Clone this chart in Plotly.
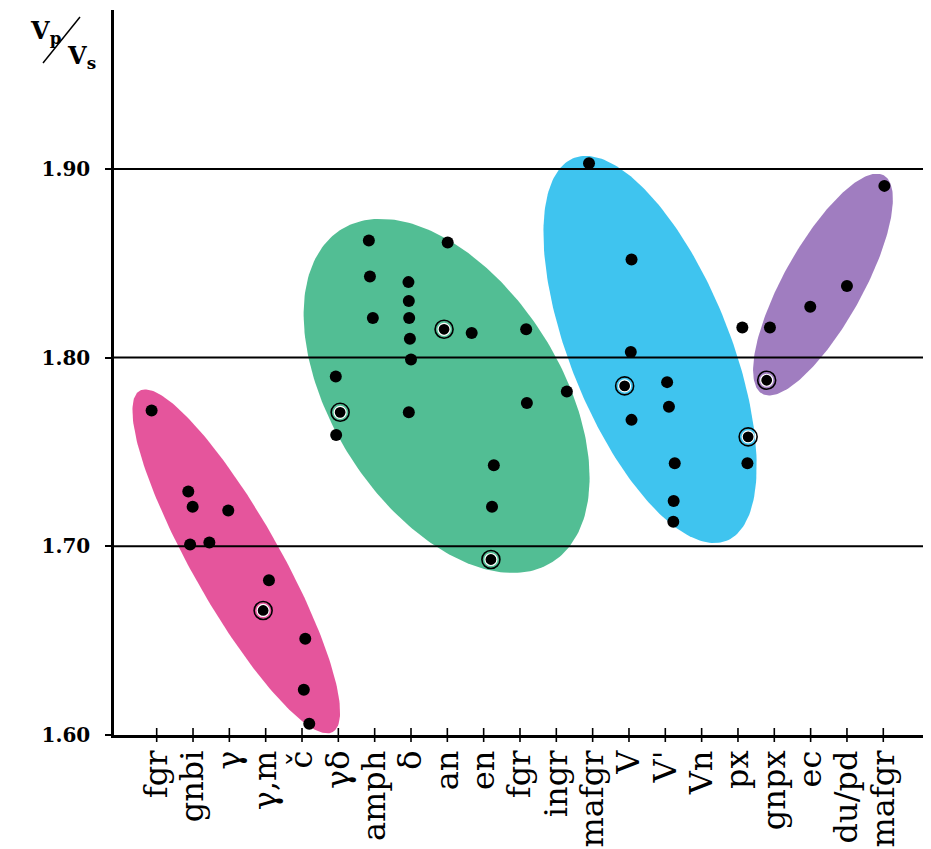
import numpy as np
import plotly.graph_objects as go

# ---------------- data ----------------
categories = ["fgr", "gnbi", "γ", "γ,m", "č", "γδ", "amph", "δ", "an", "en",
              "fgr", "ingr", "mafgr", "V", "V'", "Vn", "px", "gnpx", "ec",
              "du/pd", "mafgr"]
y_tick_values = [1.60, 1.70, 1.80, 1.90]

# plain dots (x in category-index units, y = Vp/Vs)
pink_x = [-0.14, 0.87, 0.99, 1.97, 0.92, 1.45, 3.09, 4.09, 4.05, 4.20]
pink_y = [1.772, 1.729, 1.721, 1.719, 1.701, 1.702, 1.682, 1.651, 1.624, 1.606]
green_x = [5.84, 8.01, 5.87, 6.93, 6.94, 5.95, 6.95, 8.67, 10.17, 6.97, 7.00,
           4.93, 11.29, 10.19, 6.94, 4.94, 9.28, 9.23]
green_y = [1.862, 1.861, 1.843, 1.840, 1.830, 1.821, 1.821, 1.813, 1.815, 1.810,
           1.799, 1.790, 1.782, 1.776, 1.771, 1.759, 1.743, 1.721]
blue_x = [11.90, 13.07, 13.05, 14.05, 14.10, 13.07, 14.26, 14.23, 14.22, 16.26]
blue_y = [1.903, 1.852, 1.803, 1.787, 1.774, 1.767, 1.744, 1.724, 1.713, 1.744]
purple_x = [20.03, 19.00, 17.99, 16.88]
purple_y = [1.891, 1.838, 1.827, 1.816]
lone_x = [16.12]
lone_y = [1.816]

# ringed dots
ring_x = [2.93, 7.91, 5.05, 9.20, 12.88, 16.28, 16.79]
ring_y = [1.666, 1.815, 1.771, 1.693, 1.785, 1.758, 1.788]

# field ellipses: centre (data units), semi-axes (px), tilt (deg, screen)
ell_names = ["pink", "green", "blue", "purple"]
ell_cx = [2.19, 7.98, 13.58, 18.34]
ell_cy = [1.692, 1.7797, 1.8043, 1.8387]
ell_a = [196, 197, 206, 125]
ell_b = [44, 114, 80, 39.5]
ell_ang = [60.5, 57.5, 68.2, -60.9]
ell_col = ["#E5559C", "#52BE94", "#3FC4EF", "#A07DC0"]

# ---------------- layout geometry ----------------
OFF = 8                      # page body margin
W, H = 931 - OFF, 849 - OFF
ML, MR, MT, MB = 114 - OFF, 0, 10 - OFF, 114
PW, PH = W - ML - MR, H - MT - MB
X_RANGE = [-1.175, -1.175 + PW / 36.33]
Y_RANGE = [1.60, 1.60 + PH / 1887.0]
PXX = PW / (X_RANGE[1] - X_RANGE[0])
PXY = PH / (Y_RANGE[1] - Y_RANGE[0])


def px_x(px):
    return (px - OFF - ML) / PW


def px_y(py):
    return (H - MB - (py - OFF)) / PH


fig = go.Figure()

t = np.linspace(0, 2 * np.pi, 240)
for cx, cy, a, b, ang, col in zip(ell_cx, ell_cy, ell_a, ell_b, ell_ang, ell_col):
    th = np.radians(ang)
    u, v = a * np.cos(t), b * np.sin(t)
    dx = u * np.cos(th) - v * np.sin(th)
    dy = u * np.sin(th) + v * np.cos(th)
    fig.add_trace(go.Scatter(x=cx + dx / PXX, y=cy - dy / PXY, mode="lines",
                             fill="toself", fillcolor=col, line=dict(width=0),
                             hoverinfo="skip", showlegend=False))

# x tick marks crossing the axis
fig.add_trace(go.Scatter(x=list(range(len(categories))), y=[y_tick_values[0]] * len(categories),
                         mode="markers", cliponaxis=False, hoverinfo="skip", showlegend=False,
                         marker=dict(symbol="line-ns", size=10, color="black",
                                     line=dict(width=1.6, color="black"))))

all_x = pink_x + green_x + blue_x + purple_x + lone_x
all_y = pink_y + green_y + blue_y + purple_y + lone_y
fig.add_trace(go.Scatter(x=all_x, y=all_y, mode="markers", showlegend=False, cliponaxis=False,
                         marker=dict(size=12, color="black", line=dict(width=0))))
fig.add_trace(go.Scatter(x=ring_x, y=ring_y, mode="markers", showlegend=False,
                         marker=dict(symbol="circle-open", size=18, color="black",
                                     line=dict(width=1.6, color="black"))))
fig.add_trace(go.Scatter(x=ring_x, y=ring_y, mode="markers", showlegend=False,
                         marker=dict(size=12, color="black", line=dict(width=1.2, color="white"))))

shapes = []
for yv in y_tick_values[1:]:
    shapes.append(dict(type="line", xref="paper", x0=0, x1=1, yref="y", y0=yv, y1=yv,
                       line=dict(color="black", width=2), layer="above"))
# the diagonal fraction bar of the axis title
shapes.append(dict(type="line", xref="paper", yref="paper", x0=px_x(43), y0=px_y(63),
                   x1=px_x(80), y1=px_y(17), line=dict(color="black", width=1.5)))

annotations = [
    dict(text="<b>V<sub>p</sub></b>", xref="paper", yref="paper", x=px_x(28), y=px_y(14),
         xanchor="left", yanchor="top", showarrow=False,
         font=dict(family="DejaVu Serif", size=24, color="black")),
    dict(text="<b>V<sub>s</sub></b>", xref="paper", yref="paper", x=px_x(65), y=px_y(39),
         xanchor="left", yanchor="top", showarrow=False,
         font=dict(family="DejaVu Serif", size=24, color="black")),
]

fig.update_layout(
    width=W, height=H,
    margin=dict(l=ML, r=MR, t=MT, b=MB, pad=0, autoexpand=False),
    paper_bgcolor="white", plot_bgcolor="white",
    showlegend=False,
    shapes=shapes, annotations=annotations,
    xaxis=dict(range=X_RANGE, tickmode="array", tickvals=list(range(len(categories))),
               ticktext=categories, tickangle=-90, ticks="", showgrid=False, zeroline=False,
               showline=True, linewidth=2.5, linecolor="black", layer="above traces",
               automargin=False,
               tickfont=dict(family="DejaVu Serif", size=32, color="black"),
               ticklabelstandoff=0),
    yaxis=dict(range=Y_RANGE, tickmode="array", tickvals=y_tick_values,
               ticktext=[f"{v:.2f}" for v in y_tick_values],
               ticks="outside", ticklen=6, tickwidth=2, tickcolor="black",
               showgrid=False, zeroline=False, showline=True, linewidth=2.5,
               linecolor="black", layer="above traces", automargin=False,
               tickfont=dict(family="DejaVu Serif", size=20, color="black", weight="bold"),
               ticklabelstandoff=11),
)

fig.write_html("out.html")
